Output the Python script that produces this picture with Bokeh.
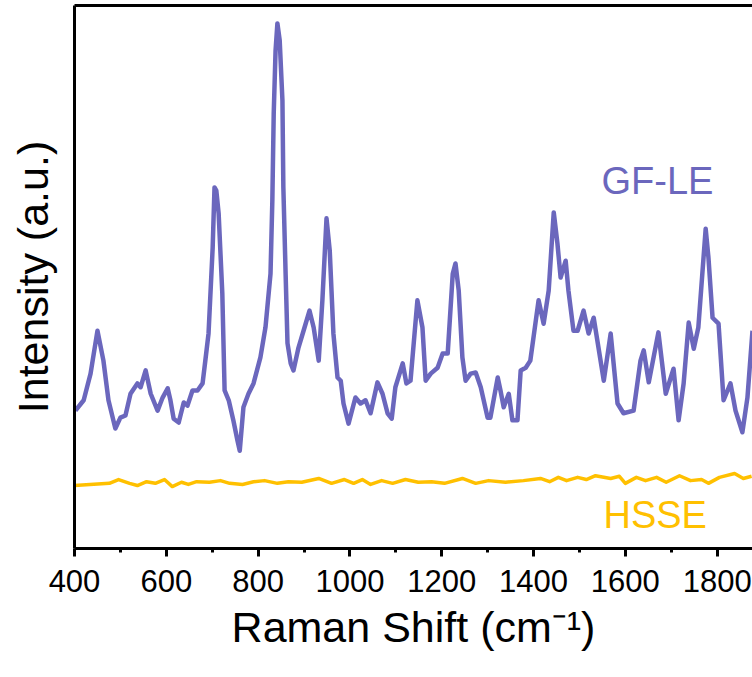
from bokeh.plotting import figure
from bokeh.models import LinearAxis, FixedTicker, Label
from bokeh.embed import file_html
from bokeh.resources import INLINE

# ---- data ----
gf_le_shift = [402, 420, 435, 450, 463, 474, 489, 500, 511, 522, 537, 544, 555, 566, 581, 592,
               603, 609, 616, 627, 638, 646, 657, 668, 679, 685, 692, 701, 705, 709, 714, 722,
               727, 736, 746, 755, 760, 768, 779, 790, 805, 816, 827, 831, 834, 838, 842, 847,
               853, 855, 860, 864, 871, 877, 888, 899, 912, 921, 932, 940, 949, 956, 964, 973,
               980, 986, 997, 1012, 1023, 1034, 1045, 1060, 1071, 1082, 1091, 1099, 1115, 1123,
               1132, 1147, 1158, 1165, 1176, 1191, 1202, 1213, 1224, 1230, 1237, 1245, 1252,
               1263, 1274, 1285, 1300, 1306, 1322, 1328, 1335, 1346, 1354, 1365, 1372, 1383,
               1393, 1404, 1411, 1422, 1433, 1444, 1452, 1459, 1470, 1476, 1487, 1496, 1509,
               1520, 1531, 1553, 1568, 1583, 1596, 1618, 1633, 1640, 1651, 1672, 1688, 1705,
               1716, 1727, 1738, 1749, 1759, 1775, 1781, 1790, 1803, 1814, 1829, 1840, 1855,
               1866, 1877]
gf_le_intensity = [25.4, 27.3, 32.2, 40.1, 34.6, 27.3, 22.1, 24.1, 24.5, 28.5, 30.4, 29.7, 32.8,
                   28.5, 25.4, 27.8, 29.5, 27.3, 23.9, 23.2, 26.9, 26.3, 29.1, 29.1, 30.4, 34.6,
                   39.6, 55.4, 66.5, 65.9, 61.7, 47.0, 29.1, 27.3, 23.6, 19.9, 18.0, 26.0, 28.5,
                   30.4, 35.2, 40.7, 50.6, 64.1, 80.1, 91.7, 96.7, 93.6, 82.5, 66.5, 50.3, 37.8,
                   34.1, 32.8, 37.0, 40.1, 43.8, 40.7, 34.6, 45.7, 60.8, 54.9, 39.6, 31.5, 30.9,
                   26.7, 23.0, 27.8, 26.7, 27.3, 24.9, 30.6, 28.5, 24.9, 23.9, 29.7, 34.1, 30.4,
                   30.9, 45.7, 40.7, 30.9, 32.2, 33.3, 35.9, 35.9, 50.6, 52.5, 47.5, 35.2, 30.9,
                   32.2, 32.4, 29.7, 24.1, 24.1, 31.5, 29.1, 26.0, 28.5, 23.6, 23.6, 32.8, 33.3,
                   34.6, 41.4, 45.7, 41.4, 47.5, 61.9, 56.2, 49.9, 53.0, 47.5, 40.1, 40.1, 43.8,
                   39.6, 42.5, 30.9, 39.6, 26.7, 24.9, 25.4, 34.6, 36.5, 30.6, 39.8, 28.5, 33.1,
                   23.6, 30.4, 41.6, 36.8, 40.7, 58.9, 53.6, 42.5, 41.4, 27.3, 30.4, 25.4, 21.4,
                   27.8, 40.1]

hsse_shift = [400, 476, 496, 520, 537, 557, 576, 596, 613, 633, 648, 666, 694, 718, 738, 766,
              790, 814, 842, 866, 895, 932, 960, 988, 1008, 1027, 1045, 1069, 1093, 1121, 1149,
              1178, 1206, 1245, 1274, 1302, 1339, 1378, 1415, 1435, 1454, 1472, 1496, 1515,
              1535, 1568, 1587, 1600, 1624, 1644, 1668, 1689, 1718, 1742, 1766, 1781, 1805,
              1838, 1857, 1875]
hsse_intensity = [11.6, 12.0, 12.7, 12.0, 11.6, 12.3, 12.0, 12.7, 11.4, 12.2, 11.8, 12.3, 12.2,
                  12.5, 12.0, 11.8, 12.3, 12.5, 12.0, 12.3, 12.2, 12.9, 12.0, 12.7, 12.0, 12.7,
                  11.8, 12.5, 12.0, 12.7, 12.2, 12.3, 12.0, 12.9, 12.0, 12.5, 12.2, 12.5, 12.9,
                  12.3, 13.1, 12.5, 13.1, 12.7, 13.4, 12.9, 13.3, 12.0, 13.1, 12.5, 13.1, 12.2,
                  13.4, 12.5, 12.7, 12.0, 13.1, 13.8, 12.9, 13.3]

major_ticks = [400, 600, 800, 1000, 1200, 1400, 1600, 1800]
minor_ticks = [500, 700, 900, 1100, 1300, 1500, 1700]
tick_labels = ["400", "600", "800", "1000", "1200", "1400", "1600", "1800"]

FONT = "Liberation Sans"
BLUE = "#6B67BD"
GOLD = "#FFC000"

p = figure(width=752, height=677, output_backend="svg", toolbar_location=None,
           x_range=(400, 1877), y_range=(0, 100),
           x_axis_location=None, y_axis_location=None,
           min_border_left=74, min_border_right=0, min_border_top=5, min_border_bottom=129)
p.outline_line_color = None
p.grid.visible = False
p.background_fill_color = "white"
p.border_fill_color = "white"

p.line(gf_le_shift, gf_le_intensity, line_color=BLUE, line_width=4.5, line_join="round")
p.line(hsse_shift, hsse_intensity, line_color=GOLD, line_width=3.5, line_join="round")

xaxis = LinearAxis(ticker=FixedTicker(ticks=major_ticks, minor_ticks=minor_ticks))
xaxis.major_label_overrides = {t: l for t, l in zip(major_ticks, tick_labels)}
xaxis.axis_line_width = 3
xaxis.major_tick_line_width = 3
xaxis.minor_tick_line_width = 3
xaxis.major_tick_in = 0
xaxis.major_tick_out = 8
xaxis.minor_tick_in = 0
xaxis.minor_tick_out = 4
xaxis.major_label_text_font = FONT
xaxis.major_label_text_font_size = "31px"
xaxis.major_label_text_color = "black"
xaxis.major_label_standoff = 13
xaxis.axis_label = "Raman Shift (cm\u207b\u00b9)"
xaxis.axis_label_text_font = FONT
xaxis.axis_label_text_font_size = "43px"
xaxis.axis_label_text_font_style = "normal"
xaxis.axis_label_text_color = "black"
xaxis.axis_label_standoff = 8
p.add_layout(xaxis, "below")

yaxis = LinearAxis(ticker=FixedTicker(ticks=[]))
yaxis.axis_line_width = 3
yaxis.major_tick_line_color = None
yaxis.minor_tick_line_color = None
yaxis.major_label_text_font_size = "0px"
yaxis.axis_label = "Intensity (a.u.)"
yaxis.axis_label_text_font = FONT
yaxis.axis_label_text_font_size = "43px"
yaxis.axis_label_text_font_style = "normal"
yaxis.axis_label_text_color = "black"
yaxis.axis_label_standoff = 18
p.add_layout(yaxis, "left")

top = LinearAxis(ticker=FixedTicker(ticks=[]))
top.axis_line_width = 3
top.major_tick_line_color = None
top.minor_tick_line_color = None
top.major_tick_out = 0
top.major_label_text_font_size = "0px"
top.major_label_standoff = 0
p.add_layout(top, "above")

p.add_layout(Label(x=1670, y=67.6, text="GF-LE", text_align="center", text_baseline="middle",
                   text_font=FONT, text_font_size="38px", text_color=BLUE))
p.add_layout(Label(x=1665, y=6.1, text="HSSE", text_align="center", text_baseline="middle",
                   text_font=FONT, text_font_size="38px", text_color=GOLD))

open("out.html", "w").write(file_html(p, INLINE))
